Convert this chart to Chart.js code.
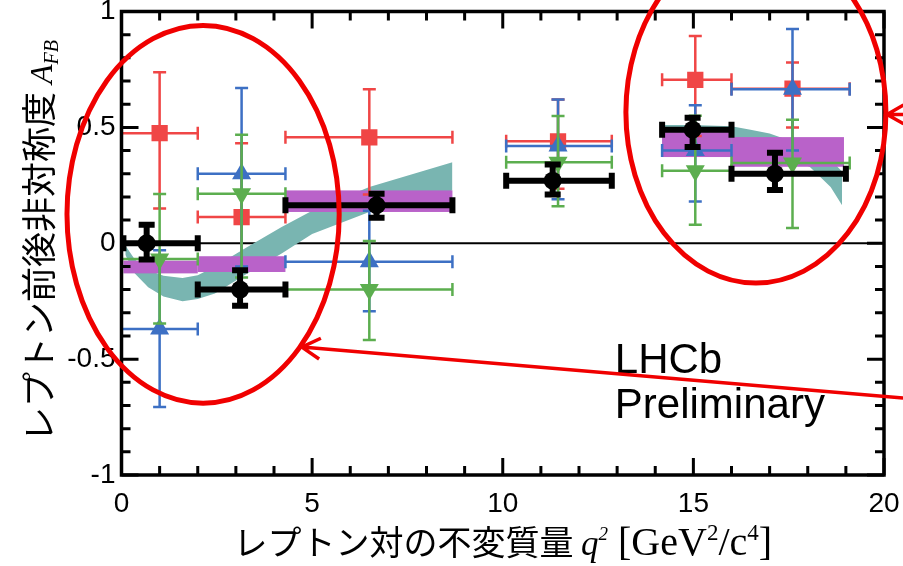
<!DOCTYPE html>
<html>
<head>
<meta charset="utf-8">
<script src="https://cdn.jsdelivr.net/npm/chart.js@4.4.1/dist/chart.umd.min.js"></script>
<style>
html, body { margin: 0; padding: 0; background: #fff; }
#wrap { width: 903px; height: 566px; }
</style>
</head>
<body>
<div id="wrap"><canvas id="afb" width="903" height="566"></canvas></div>
<script>
// axis ticks
const xTicks = [0, 5, 10, 15, 20];
const yTicks = [-1, -0.5, 0, 0.5, 1];

// LHCb (black circles)
const lhcbX = [0.66, 3.11, 6.69, 11.31, 14.98, 17.14];
const lhcbY = [0.0, -0.20, 0.164, 0.27, 0.49, 0.30];
const lhcbTop = [0.08, -0.116, 0.214, 0.34, 0.542, 0.39];
const lhcbBot = [-0.07, -0.27, 0.11, 0.21, 0.415, 0.23];
const lhcbLo = [0.05, 2.0, 4.3, 10.09, 14.18, 16.0];
const lhcbHi = [2.0, 4.3, 8.68, 12.86, 16.0, 19.0];

// other experiments share bins and centres
const refX = [1.0, 3.15, 6.5, 11.45, 15.05, 17.6];
const refLo = [0.0, 2.0, 4.3, 10.09, 14.18, 16.0];
const refHi = [2.0, 4.3, 8.68, 12.86, 16.0, 19.1];

// red squares
const redY = [0.475, 0.113, 0.457, 0.44, 0.705, 0.667];
const redTop = [0.738, 0.432, 0.665, 0.62, 0.894, 0.78];
const redBot = [0.15, -0.263, 0.21, 0.235, 0.463, 0.50];

// blue triangles
const blueY = [-0.37, 0.30, -0.08, 0.42, 0.40, 0.665];
const blueTop = [-0.03, 0.67, 0.14, 0.62, 0.595, 0.925];
const blueBot = [-0.707, -0.10, -0.293, 0.19, 0.18, 0.40];

// green triangles (down)
const greenY = [-0.068, 0.214, -0.20, 0.35, 0.313, 0.346];
const greenTop = [0.212, 0.468, 0.01, 0.549, 0.55, 0.533];
const greenBot = [-0.346, -0.148, -0.418, 0.16, 0.08, 0.066];

// SM bin averages (magenta boxes)
const smLo = [0.05, 2.0, 4.3, 14.18, 16.0];
const smHi = [2.0, 4.3, 8.68, 16.0, 18.95];
const smBot = [-0.13, -0.124, 0.135, 0.372, 0.33];
const smTop = [-0.075, -0.056, 0.228, 0.487, 0.458];

// SM band (teal), two pieces
const band1X = [0.1, 0.35, 0.7, 1.1, 1.6, 2.0, 2.45, 3.3, 4.2, 5.0, 6.5, 8.68];
const band1Top = [-0.01, -0.07, -0.115, -0.14, -0.15, -0.138, -0.10, -0.016, 0.07, 0.14, 0.243, 0.35];
const band1Bot = [-0.05, -0.13, -0.19, -0.23, -0.25, -0.241, -0.217, -0.13, -0.044, 0.04, 0.135, 0.228];
const band2X = [14.18, 15.0, 16.0, 16.5, 17.0, 17.5, 18.05, 18.6, 18.9];
const band2Top = [0.51, 0.51, 0.505, 0.49, 0.474, 0.444, 0.41, 0.36, 0.31];
const band2Bot = [0.42, 0.41, 0.40, 0.39, 0.375, 0.36, 0.33, 0.243, 0.164];

const RED = '#f04646', BLUE = '#3d70c4', GREEN = '#5cae4f';
const TEAL = '#79b5b1', MAGENTA = '#b962c9', MARK = '#f00000';
const sans = '"Liberation Sans", Arial, sans-serif';
const serif = '"Liberation Serif", "Times New Roman", serif';
const cjk = '"Noto Sans CJK JP", sans-serif';

function pts(xs, ys) {
    return xs.map(function (x, i) { return { x: x, y: ys[i] }; });
}

const errSets = {
    4: { x: refX, y: redY, top: redTop, bot: redBot, lo: refLo, hi: refHi, color: RED, w: 2.5, cap: 6.5, boxes: true },
    5: { x: refX, y: blueY, top: blueTop, bot: blueBot, lo: refLo, hi: refHi, color: BLUE, w: 2.5, cap: 6.5 },
    6: { x: refX, y: greenY, top: greenTop, bot: greenBot, lo: refLo, hi: refHi, color: GREEN, w: 2.5, cap: 6.5 },
    7: { x: lhcbX, y: lhcbY, top: lhcbTop, bot: lhcbBot, lo: lhcbLo, hi: lhcbHi, color: '#000', w: 6, cap: 8 }
};

function drawBoxes(chart) {
    const ctx = chart.ctx, sx = chart.scales.x, sy = chart.scales.y;
    ctx.save();
    ctx.fillStyle = MAGENTA;
    for (let i = 0; i < smLo.length; i++) {
        const x0 = sx.getPixelForValue(smLo[i]), x1 = sx.getPixelForValue(smHi[i]);
        const y0 = sy.getPixelForValue(smTop[i]), y1 = sy.getPixelForValue(smBot[i]);
        ctx.fillRect(x0, y0, x1 - x0, y1 - y0);
    }
    ctx.restore();
}

function drawErrors(chart, s) {
    const ctx = chart.ctx, sx = chart.scales.x, sy = chart.scales.y;
    ctx.save();
    ctx.strokeStyle = s.color;
    ctx.lineWidth = s.w;
    ctx.lineCap = 'butt';
    for (let i = 0; i < s.x.length; i++) {
        const px = sx.getPixelForValue(s.x[i]), py = sy.getPixelForValue(s.y[i]);
        const x0 = sx.getPixelForValue(s.lo[i]), x1 = sx.getPixelForValue(s.hi[i]);
        const y0 = sy.getPixelForValue(s.top[i]), y1 = sy.getPixelForValue(s.bot[i]);
        ctx.beginPath();
        ctx.moveTo(x0, py); ctx.lineTo(x1, py);
        ctx.moveTo(px, y0); ctx.lineTo(px, y1);
        // caps
        ctx.moveTo(x0, py - s.cap); ctx.lineTo(x0, py + s.cap);
        ctx.moveTo(x1, py - s.cap); ctx.lineTo(x1, py + s.cap);
        ctx.moveTo(px - s.cap, y0); ctx.lineTo(px + s.cap, y0);
        ctx.moveTo(px - s.cap, y1); ctx.lineTo(px + s.cap, y1);
        ctx.stroke();
    }
    ctx.restore();
}

function arrow(ctx, x0, y0, x1, y1, len) {
    const a = Math.atan2(y0 - y1, x0 - x1);
    ctx.beginPath();
    ctx.moveTo(x0, y0); ctx.lineTo(x1, y1);
    ctx.moveTo(x1 + len * Math.cos(a - 0.52), y1 + len * Math.sin(a - 0.52));
    ctx.lineTo(x1, y1);
    ctx.lineTo(x1 + len * Math.cos(a + 0.52), y1 + len * Math.sin(a + 0.52));
    ctx.stroke();
}

// draws rich text pieces along the baseline, centred on cx
function richText(ctx, parts, cx, base) {
    let w = 0;
    parts.forEach(function (p) { ctx.font = p.font; w += ctx.measureText(p.t).width + (p.gap || 0); });
    let x = cx - w / 2;
    parts.forEach(function (p) {
        ctx.font = p.font;
        ctx.fillText(p.t, x, base + (p.dy || 0));
        x += ctx.measureText(p.t).width + (p.gap || 0);
    });
}

const decor = {
    id: 'decor',
    beforeDatasetsDraw(chart) {
        const ctx = chart.ctx, a = chart.chartArea, sy = chart.scales.y;
        const y0 = sy.getPixelForValue(0);
        ctx.save();
        ctx.strokeStyle = '#000';
        ctx.lineWidth = 2;
        ctx.beginPath(); ctx.moveTo(a.left, y0); ctx.lineTo(a.right, y0); ctx.stroke();
        ctx.restore();
    },
    beforeDatasetDraw(chart, args) {
        const s = errSets[args.index];
        if (!s) return;
        if (s.boxes) drawBoxes(chart);
        drawErrors(chart, s);
    },
    afterDraw(chart) {
        const ctx = chart.ctx, a = chart.chartArea, sx = chart.scales.x, sy = chart.scales.y;
        ctx.save();
        // frame and inward ticks
        ctx.strokeStyle = '#000';
        ctx.lineWidth = 3.5;
        ctx.strokeRect(a.left, a.top, a.right - a.left, a.bottom - a.top);
        ctx.lineWidth = 3;
        ctx.beginPath();
        for (let v = 0; v <= 20; v++) {
            const px = sx.getPixelForValue(v), l = v % 5 === 0 ? 17 : 9;
            ctx.moveTo(px, a.bottom); ctx.lineTo(px, a.bottom - l);
            ctx.moveTo(px, a.top); ctx.lineTo(px, a.top + l);
        }
        for (let i = -10; i <= 10; i++) {
            const py = sy.getPixelForValue(i / 10), l = i % 5 === 0 ? 17 : 9;
            ctx.moveTo(a.left, py); ctx.lineTo(a.left + l, py);
            ctx.moveTo(a.right, py); ctx.lineTo(a.right - l, py);
        }
        ctx.stroke();

        // LHCb label
        ctx.fillStyle = '#000';
        ctx.font = '42px ' + sans;
        ctx.textAlign = 'left';
        ctx.textBaseline = 'alphabetic';
        ctx.fillText('LHCb', sx.getPixelForValue(12.94), sy.getPixelForValue(-0.56));
        ctx.fillText('Preliminary', sx.getPixelForValue(12.94), sy.getPixelForValue(-0.754));

        // axis titles
        richText(ctx, [
            { t: 'レプトン対の不変質量 ', font: '34px ' + cjk },
            { t: 'q', font: 'italic 35px ' + serif },
            { t: '2', font: 'italic 19px ' + serif, dy: -15, gap: 10 },
            { t: '[GeV', font: '40px ' + serif },
            { t: '2', font: '23px ' + serif, dy: -15 },
            { t: '/c', font: '40px ' + serif },
            { t: '4', font: '23px ' + serif, dy: -15 },
            { t: ']', font: '40px ' + serif }
        ], (a.left + a.right) / 2, 555);

        ctx.save();
        ctx.translate(52, 241);
        ctx.rotate(-Math.PI / 2);
        richText(ctx, [
            { t: 'レプトン前後非対称度 ', font: '35px ' + cjk },
            { t: 'A', font: 'italic 32px ' + serif },
            { t: 'FB', font: 'italic 20px ' + serif, dy: 6 }
        ], 0, 0);
        ctx.restore();

        // red annotation ellipses and arrows
        ctx.strokeStyle = MARK;
        ctx.lineWidth = 5;
        const ex = [2.14, 16.64], ey = [0.125, 0.565], erx = [3.57, 3.41], ery = [0.815, 0.737];
        for (let i = 0; i < 2; i++) {
            const cx = sx.getPixelForValue(ex[i]), cy = sy.getPixelForValue(ey[i]);
            const rx = sx.getPixelForValue(ex[i] + erx[i]) - cx, ry = cy - sy.getPixelForValue(ey[i] + ery[i]);
            ctx.beginPath();
            ctx.ellipse(cx, cy, rx, ry, 0, 0, Math.PI * 2);
            ctx.stroke();
        }
        ctx.lineWidth = 3.5;
        arrow(ctx, sx.getPixelForValue(20.5), sy.getPixelForValue(-0.668), sx.getPixelForValue(4.73), sy.getPixelForValue(-0.448), 21);
        arrow(ctx, sx.getPixelForValue(20.5), sy.getPixelForValue(0.556), sx.getPixelForValue(20.08), sy.getPixelForValue(0.556), 19);
        ctx.restore();
    }
};

const bandLine = { showLine: true, pointRadius: 0, borderWidth: 0, borderColor: 'rgba(0,0,0,0)', order: 4 };

new Chart(document.getElementById('afb'), {
    type: 'scatter',
    data: {
        datasets: [
            Object.assign({ data: pts(band1X, band1Top), fill: false }, bandLine),
            Object.assign({ data: pts(band1X, band1Bot), fill: '-1', backgroundColor: TEAL }, bandLine),
            Object.assign({ data: pts(band2X, band2Top), fill: false }, bandLine),
            Object.assign({ data: pts(band2X, band2Bot), fill: '-1', backgroundColor: TEAL }, bandLine),
            { data: pts(refX, redY), pointStyle: 'rect', pointRadius: 11.5, backgroundColor: RED, borderWidth: 0, order: 3 },
            { data: pts(refX, blueY), pointStyle: 'triangle', pointRadius: 11, backgroundColor: BLUE, borderWidth: 0, order: 2 },
            { data: pts(refX, greenY), pointStyle: 'triangle', rotation: 180, pointRadius: 11, backgroundColor: GREEN, borderWidth: 0, order: 1 },
            { data: pts(lhcbX, lhcbY), pointStyle: 'circle', pointRadius: 9, backgroundColor: '#000', borderWidth: 0, order: 0 }
        ]
    },
    options: {
        responsive: false,
        devicePixelRatio: 1,
        animation: false,
        layout: { padding: { top: 11, right: 19, left: 0, bottom: 0 } },
        plugins: { legend: { display: false }, tooltip: { enabled: false } },
        scales: {
            x: {
                type: 'linear', min: 0, max: 20,
                grid: { display: false, drawTicks: false },
                border: { display: false },
                afterBuildTicks: function (s) { s.ticks = xTicks.map(function (v) { return { value: v }; }); },
                ticks: { color: '#000', padding: 12, font: { family: sans, size: 28 }, callback: function (v) { return String(v); } },
                afterFit: function (s) { s.height = 91; s.paddingLeft = 0; s.paddingRight = 0; }
            },
            y: {
                type: 'linear', min: -1, max: 1,
                grid: { display: false, drawTicks: false },
                border: { display: false },
                afterBuildTicks: function (s) { s.ticks = yTicks.map(function (v) { return { value: v }; }); },
                ticks: { color: '#000', padding: 6, font: { family: sans, size: 28 }, callback: function (v) { return String(v); } },
                afterFit: function (s) { s.width = 121.5; s.paddingTop = 0; s.paddingBottom = 0; }
            }
        }
    },
    plugins: [decor]
});
</script>
</body>
</html>
